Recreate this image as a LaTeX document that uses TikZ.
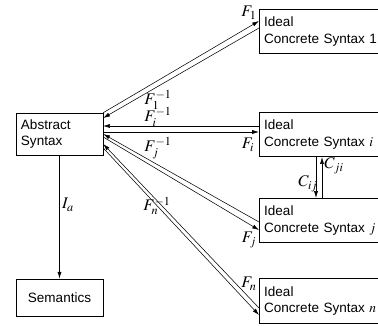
\documentclass[tikz,border=0pt]{standalone}
\usepackage{mathptmx}
\usepackage[no-math]{fontspec}
\setmainfont{Liberation Sans}
\usetikzlibrary{arrows.meta,calc}
\tikzset{
    box/.style = {draw, line width=.5pt},
    absbox/.style = {box, text width=57pt, inner xsep=3.6pt, minimum height=31pt, align=left},
    synbox/.style = {box, anchor=west, text width=110pt, inner xsep=3.6pt, minimum height=33pt, align=left},
    map/.style = {-{Latex[length=5pt,width=3pt]}, line width=.4pt},
    lbl/.style = {font=\large, inner sep=0pt},
}

\begin{document}
\begin{tikzpicture}[x=0.74pt,y=0.74pt]
\useasboundingbox (0,0) rectangle (378,-326);

\node[absbox](abs) at (59.5,-134) {Abstract\\Syntax};
\node[box, minimum width=64.4pt, minimum height=27.4pt](sem) at (59.5,-297.5) {Semantics};

\node[synbox](c1) at (259,-31.5) {Ideal\\Concrete Syntax 1};
\node[synbox](ci) at (259,-134.5) {Ideal\\Concrete Syntax $i$};
\node[synbox](cj) at (259,-220.5) {Ideal\\Concrete Syntax $j$};
\node[synbox](cn) at (259,-301) {Ideal\\Concrete Syntax $n$};

% abstract <-> concrete
\draw[map](abs.north east) -- ($(c1.west)+(0,10.5)$);
\draw[map]($(c1.west)+(0,3.5)$) -- ($(abs.east)+(0,16)$);
\draw[map]($(ci.west)+(0,8.5)$) -- ($(abs.east)+(0,8)$);
\draw[map]($(abs.east)+(0,2)$) -- ($(ci.west)+(0,2.5)$);
\draw[map]($(cj.west)+(0,-1.5)$) -- (abs.east);
\draw[map]($(abs.east)+(0,-3)$) -- ($(cj.west)+(0,-9.5)$);
\draw[map]($(cn.west)+(0,-7)$) -- ($(abs.east)+(0,-10)$);
\draw[map]($(abs.east)+(0,-14)$) -- ($(cn.west)+(0,-14)$);

% concrete <-> concrete
\draw[map]($(ci.south west)+(57,0)$) -- ($(cj.north west)+(57,0)$);
\draw[map]($(cj.north west)+(63,0)$) -- ($(ci.south west)+(63,0)$);

\draw[map](abs.south) -- (sem.north);

\node[lbl](lF1) at (249,-13) {$F_1$};
\node[lbl](lF1i) at (158,-100) {$F_1^{-1}$};
\node[lbl](lFii) at (158,-117) {$F_i^{-1}$};
\node[lbl](lFi) at (248,-145) {$F_i$};
\node[lbl](lFji) at (158,-148) {$F_j^{-1}$};
\node[lbl](lFj) at (249,-240) {$F_j$};
\node[lbl](lFni) at (157,-206) {$F_n^{-1}$};
\node[lbl](lFn) at (249,-284) {$F_n$};
\node[lbl](lCji) at (334,-166) {$C_{ji}$};
\node[lbl](lCij) at (308,-184) {$C_{ij}$};
\node[lbl](lIa) at (68,-205) {$I_a$};

\end{tikzpicture}
\end{document}
